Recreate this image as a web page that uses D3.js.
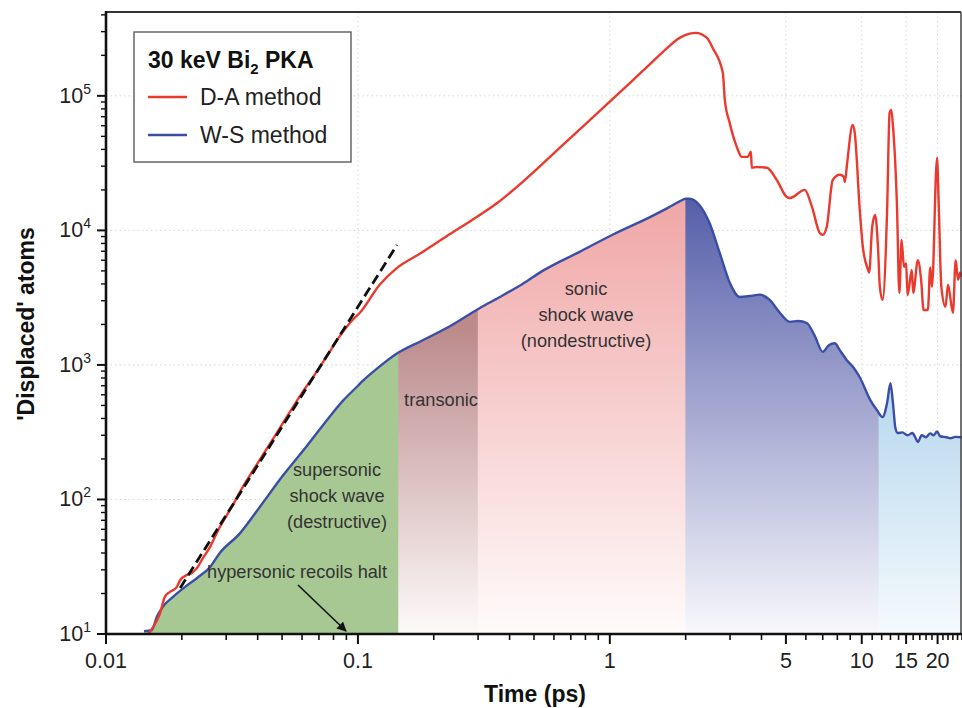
<!DOCTYPE html>
<html><head><meta charset="utf-8">
<script src="https://cdn.jsdelivr.net/npm/d3@7"></script>
<style>body{margin:0;background:#fff;} svg{display:block;font-family:"Liberation Sans",Arial,Helvetica,sans-serif;}</style>
</head><body><svg id="c" width="962" height="708"></svg>
<script>
// ---- data ----
const redT = [0.0147,0.0154,0.0164,0.0171,0.0179,0.0191,0.0197,0.021,0.0219,0.023,0.024,0.026,0.028,0.030,0.032,0.035,0.038,0.042,0.047,0.053,0.060,0.066,0.075,0.085,0.095,0.102,0.122,0.143,0.176,0.225,0.283,0.356,0.46,0.64,0.888,1.05,1.36,1.71,1.85,2.0,2.19,2.43,2.56,2.81,2.86,2.99,3.19,3.34,3.53,3.63,3.66,3.83,4.2,4.6,5.04,5.18,5.94,6.34,6.81,7.0,7.26,7.67,8.18,8.49,8.57,8.75,9.2,9.38,9.82,10.1,10.6,10.7,11.0,11.3,11.6,11.8,12.1,12.6,12.9,13.1,13.3,13.8,14.1,14.4,14.7,15.0,15.2,15.8,16.0,16.7,17.2,17.6,18.3,18.7,19.0,19.9,20.2,20.7,21.5,22.0,23.0,23.6,24.1,24.6,25];
const redV = [10,11.3,14.3,18.8,20.5,22.3,25.2,27.5,28.4,31,35.5,45,60,75,92,125,160,215,300,430,620,800,1150,1650,2150,2450,3940,5260,6700,9060,11900,15900,23700,41900,73800,98600,155000,231000,262000,284000,294000,270000,227000,148000,93300,63000,41800,35200,35200,38400,29200,29600,29200,23700,17700,17400,20000,15000,9580,9270,10600,23700,25900,25000,22900,31700,60800,53100,14200,7530,5080,4850,10600,13000,7530,3800,3040,13500,74800,78500,60000,15000,3430,8500,5360,5700,3300,5080,3430,6000,4300,2560,2560,5300,3800,34600,16000,3800,2700,3950,2440,6000,4300,4860,4500];

const blueT = [0.01415,0.0152,0.0159,0.0168,0.0184,0.0206,0.023,0.0259,0.0283,0.034,0.0408,0.0503,0.0627,0.0794,0.0871,0.1,0.1045,0.12,0.1443,0.18,0.225,0.305,0.366,0.45,0.541,0.755,1.04,1.45,1.7,1.9,2.0,2.07,2.27,2.49,2.73,2.99,3.28,3.6,3.94,4.31,4.73,5.18,5.6,6.05,6.5,7.0,7.4,7.81,8.2,8.71,9.3,9.82,10.8,11.5,12.1,12.6,13.0,13.3,13.6,13.9,14.5,15.2,15.9,16.3,16.7,17.3,18.0,18.7,19.3,19.9,20.5,21.7,22.5,23.5,25];
const blueV = [10.5,10.7,13.4,15.9,18.8,22.4,26.1,31.5,40,56,88,150,250,440,540,700,760,950,1230,1520,1880,2650,3200,4000,5000,6900,9400,12600,14700,16500,17200,17200,15400,11300,6800,4100,3200,3250,3330,3040,2440,2090,2120,2050,1650,1250,1400,1450,1280,1090,950,810,550,460,410,520,730,520,340,312,315,300,312,290,267,300,290,310,300,320,295,290,285,292,290];

const dashT = [0.0197, 0.143];
const dashV = [22, 7800];

// regime boundaries (ps)
const regionBounds = [0.01415, 0.145, 0.3, 2.0, 11.7, 25];

const xMajorTicks = [0.01, 0.1, 1, 5, 10, 15, 20];
const xTickLabels = ["0.01", "0.1", "1", "5", "10", "15", "20"];
const xGridTicks = [0.1, 1, 5, 10, 15, 20];
const yMajorTicks = [10, 100, 1000, 10000, 100000];
const yExponents = ["1", "2", "3", "4", "5"];

// ---- layout ----
const L = 106, R = 962, T = 12, B = 634;
const svg = d3.select("#c");
const defs = svg.append("defs");
const x = d3.scaleLog().domain([0.01, 25]).range([L, R]);
const y = d3.scaleLog().domain([10, 4.2e5]).range([B, T]);

const red = redT.map((t, i) => ({t, v: redV[i]}));
const blue = blueT.map((t, i) => ({t, v: blueV[i]}));

// minor ticks
const xMinor = [];
[0.01, 0.1, 1].forEach(d => { for (let k = 2; k <= 9; k++) { const v = +(k*d).toPrecision(3); if (!xMajorTicks.includes(v)) xMinor.push(v); } });
for (let k = 11; k <= 25; k++) if (!xMajorTicks.includes(k)) xMinor.push(k);
const yMinor = [];
[10, 100, 1000, 10000, 100000].forEach(d => { for (let k = 2; k <= 9; k++) { const v = k*d; if (v <= 4.2e5) yMinor.push(v); } });

// grid
const grid = svg.append("g").attr("stroke", "#d6d6cc").attr("stroke-width", 1).attr("stroke-dasharray", "1.5,3");
grid.selectAll(".gx").data(xGridTicks).enter().append("line")
  .attr("x1", d => x(d)).attr("x2", d => x(d)).attr("y1", T).attr("y2", B);
grid.selectAll(".gy").data(yMajorTicks.slice(1)).enter().append("line")
  .attr("x1", L).attr("x2", R).attr("y1", d => y(d)).attr("y2", d => y(d));

// region fills
const regionStyles = [
  {top: "#a7c892", bottom: "#a7c892"},
  {top: "#bc8a8b", bottom: "#fdfafa"},
  {top: "#f0a6a6", bottom: "#fffbfb"},
  {top: "#565ea9", bottom: "#f8f8fc"},
  {top: "#b6d7ee", bottom: "#f5fafd"}
];
const curve = d3.curveMonotoneX;
const area = d3.area().x(d => x(d.t)).y0(y(10)).y1(d => y(d.v)).curve(curve);
const fills = svg.append("g");
for (let i = 0; i < regionBounds.length - 1; i++) {
  const t0 = regionBounds[i], t1 = regionBounds[i+1];
  const topV = d3.max(blue.filter(d => d.t >= t0 && d.t <= t1), d => d.v);
  const gid = "grad" + i, cid = "clipR" + i;
  const gr = defs.append("linearGradient").attr("id", gid).attr("gradientUnits", "userSpaceOnUse")
    .attr("x1", 0).attr("x2", 0).attr("y1", y(topV)).attr("y2", B);
  gr.append("stop").attr("offset", 0).attr("stop-color", regionStyles[i].top);
  gr.append("stop").attr("offset", 1).attr("stop-color", regionStyles[i].bottom);
  defs.append("clipPath").attr("id", cid).append("rect")
    .attr("x", x(t0) - (i ? 0.3 : 0)).attr("y", T).attr("width", x(t1) - x(t0) + 0.6).attr("height", B - T);
  fills.append("path").datum(blue).attr("d", area).attr("fill", `url(#${gid})`).attr("clip-path", `url(#${cid})`);
}

// plot clip for lines
defs.append("clipPath").attr("id", "plotClip").append("rect").attr("x", L).attr("y", T).attr("width", R - L).attr("height", B - T);

const line = d3.line().x(d => x(d.t)).y(d => y(d.v)).curve(curve);
const lines = svg.append("g").attr("clip-path", "url(#plotClip)");
lines.append("path").datum(blue).attr("d", line).attr("fill", "none").attr("stroke", "#3b4ea6").attr("stroke-width", 2.4).attr("stroke-linejoin", "round");
lines.append("path").datum(red).attr("d", line).attr("fill", "none").attr("stroke", "#ea3a2e").attr("stroke-width", 2.4).attr("stroke-linejoin", "round");
lines.append("path").datum(dashT.map((t, i) => ({t, v: dashV[i]}))).attr("d", d3.line().x(d => x(d.t)).y(d => y(d.v)))
  .attr("fill", "none").attr("stroke", "#111").attr("stroke-width", 2.8).attr("stroke-dasharray", "10,5");

// annotations
const ann = svg.append("g").attr("fill", "#333").attr("font-size", "18.2px").attr("text-anchor", "middle");
[["supersonic", 337, 476], ["shock wave", 337, 502], ["(destructive)", 337, 528],
 ["hypersonic recoils halt", 297, 578], ["transonic", 441, 406],
 ["sonic", 586, 295], ["shock wave", 586, 321], ["(nondestructive)", 586, 347]]
 .forEach(a => ann.append("text").attr("x", a[1]).attr("y", a[2]).text(a[0]));

defs.append("marker").attr("id", "arr").attr("viewBox", "0 0 10 10").attr("refX", 9).attr("refY", 5)
  .attr("markerWidth", 6).attr("markerHeight", 6).attr("orient", "auto")
  .append("path").attr("d", "M0,0 L10,5 L0,10 Z").attr("fill", "#111");
svg.append("line").attr("x1", 298).attr("y1", 585).attr("x2", 346).attr("y2", 631)
  .attr("stroke", "#111").attr("stroke-width", 1.6).attr("marker-end", "url(#arr)");

// frame
svg.append("line").attr("x1", L).attr("x2", R - 1).attr("y1", T).attr("y2", T).attr("stroke", "#333").attr("stroke-width", 2);
svg.append("line").attr("x1", R - 1).attr("x2", R - 1).attr("y1", T).attr("y2", B).attr("stroke", "#444").attr("stroke-width", 1.5);

// axes
const ax = svg.append("g").attr("stroke", "#111");
ax.selectAll(".xM").data(xMajorTicks).enter().append("line")
  .attr("x1", d => x(d)).attr("x2", d => x(d)).attr("y1", B).attr("y2", B + 10).attr("stroke-width", 2);
ax.selectAll(".xm").data(xMinor).enter().append("line")
  .attr("x1", d => x(d)).attr("x2", d => x(d)).attr("y1", B).attr("y2", B + 6).attr("stroke-width", 1.6);
ax.selectAll(".yM").data(yMajorTicks).enter().append("line")
  .attr("x1", L - 9).attr("x2", L).attr("y1", d => y(d)).attr("y2", d => y(d)).attr("stroke-width", 2);
ax.selectAll(".ym").data(yMinor).enter().append("line")
  .attr("x1", L - 5).attr("x2", L).attr("y1", d => y(d)).attr("y2", d => y(d)).attr("stroke-width", 1.4);
ax.append("line").attr("x1", L).attr("x2", L).attr("y1", T - 1).attr("y2", B + 1).attr("stroke-width", 2.6);
ax.append("line").attr("x1", L - 1).attr("x2", R).attr("y1", B).attr("y2", B).attr("stroke-width", 2.6);

const tl = svg.append("g").attr("fill", "#222").attr("font-size", "21.5px");
xMajorTicks.forEach((d, i) => tl.append("text").attr("x", x(d)).attr("y", 668).attr("text-anchor", "middle").text(xTickLabels[i]));
yMajorTicks.forEach((d, i) => {
  const t = tl.append("text").attr("x", 91).attr("y", y(d) + 7).attr("text-anchor", "end");
  t.append("tspan").text("10");
  t.append("tspan").attr("dy", -9).attr("font-size", "14px").text(yExponents[i]);
});

svg.append("text").attr("x", 535).attr("y", 702).attr("text-anchor", "middle")
  .attr("font-size", "23px").attr("font-weight", "bold").attr("fill", "#111").text("Time (ps)");
svg.append("text").attr("transform", "translate(34,324) rotate(-90)").attr("text-anchor", "middle")
  .attr("font-size", "23px").attr("font-weight", "bold").attr("fill", "#111").text("'Displaced' atoms");

// legend
const lg = svg.append("g");
lg.append("rect").attr("x", 134).attr("y", 32).attr("width", 217).attr("height", 130)
  .attr("fill", "#fff").attr("stroke", "#666").attr("stroke-width", 1.5);
const title = lg.append("text").attr("x", 148).attr("y", 68).attr("font-size", "23px").attr("font-weight", "bold").attr("fill", "#111");
title.append("tspan").text("30 keV Bi");
title.append("tspan").attr("dy", 6).attr("font-size", "15px").text("2");
title.append("tspan").attr("dy", -6).text(" PKA");
lg.append("line").attr("x1", 148).attr("x2", 187).attr("y1", 97).attr("y2", 97).attr("stroke", "#ea3a2e").attr("stroke-width", 2.4);
lg.append("text").attr("x", 200).attr("y", 105).attr("font-size", "23px").attr("fill", "#222").text("D-A method");
lg.append("line").attr("x1", 148).attr("x2", 187).attr("y1", 135).attr("y2", 135).attr("stroke", "#3b4ea6").attr("stroke-width", 2.4);
lg.append("text").attr("x", 200).attr("y", 143).attr("font-size", "23px").attr("fill", "#222").text("W-S method");
</script></body></html>
